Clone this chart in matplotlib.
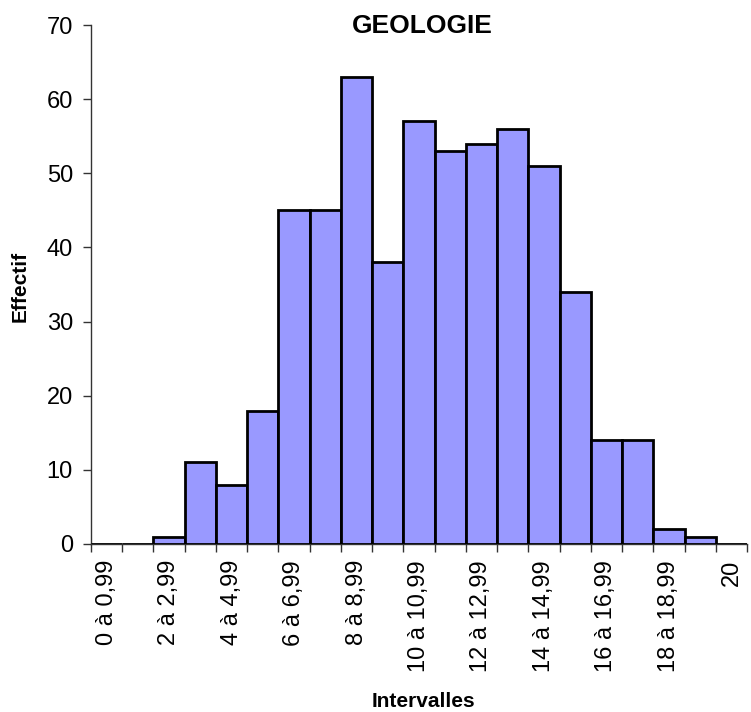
import numpy as np
import matplotlib.pyplot as plt

plt.rcParams['font.family'] = ['Liberation Sans', 'DejaVu Sans']

# effectifs par intervalle de notes
intervalles = ["0 à 0,99", "1 à 1,99", "2 à 2,99", "3 à 3,99", "4 à 4,99",
               "5 à 5,99", "6 à 6,99", "7 à 7,99", "8 à 8,99", "9 à 9,99",
               "10 à 10,99", "11 à 11,99", "12 à 12,99", "13 à 13,99",
               "14 à 14,99", "15 à 15,99", "16 à 16,99", "17 à 17,99",
               "18 à 18,99", "19 à 19,99", "20"]
effectifs = [0, 0, 1, 11, 8, 18, 45, 45, 63, 38, 57, 53, 54, 56, 51, 34,
             14, 14, 2, 1, 0]

W, H = 751, 712
fig = plt.figure(figsize=(W / 100, H / 100), dpi=100)
ax = fig.add_axes([91 / W, 1 - 544 / H, 656 / W, 519 / H])

x = np.arange(len(intervalles))
ax.bar(x, effectifs, width=1.0, color="#9999ff", edgecolor="black",
       linewidth=2, zorder=3)

n = len(intervalles)
ax.set_xlim(-0.5, n - 0.5)
ax.set_ylim(0, 70)
ax.set_yticks(np.arange(0, 71, 10))

# graduations entre les classes, une étiquette sur deux
ax.set_xticks(np.arange(-0.5, n, 1.0))
ax.set_xticklabels([])
ax.set_xticks(x[::2], minor=True)
ax.set_xticklabels(intervalles[::2], minor=True, rotation=90, fontsize=17)
ax.tick_params(axis="x", which="minor", length=0, pad=11.5)
ax.tick_params(axis="x", which="major", length=6, width=1, color="#333333")
ax.tick_params(axis="y", length=6, width=1, color="#333333", labelsize=17, pad=7)

for side in ["top", "right"]:
    ax.spines[side].set_visible(False)
for side in ["left", "bottom"]:
    ax.spines[side].set_color("#333333")
    ax.spines[side].set_linewidth(1)

fig.text(422 / W, 1 - 33 / H, "GEOLOGIE", fontsize=19, fontweight="bold",
         ha="center", va="baseline")
fig.text(20 / W, 1 - 286 / H, "Effectif", fontsize=15, fontweight="bold",
         rotation=90, ha="center", va="center")
fig.text(423 / W, 1 - 707 / H, "Intervalles", fontsize=15, fontweight="bold",
         ha="center", va="baseline")

fig.savefig("out.png", dpi=100)
